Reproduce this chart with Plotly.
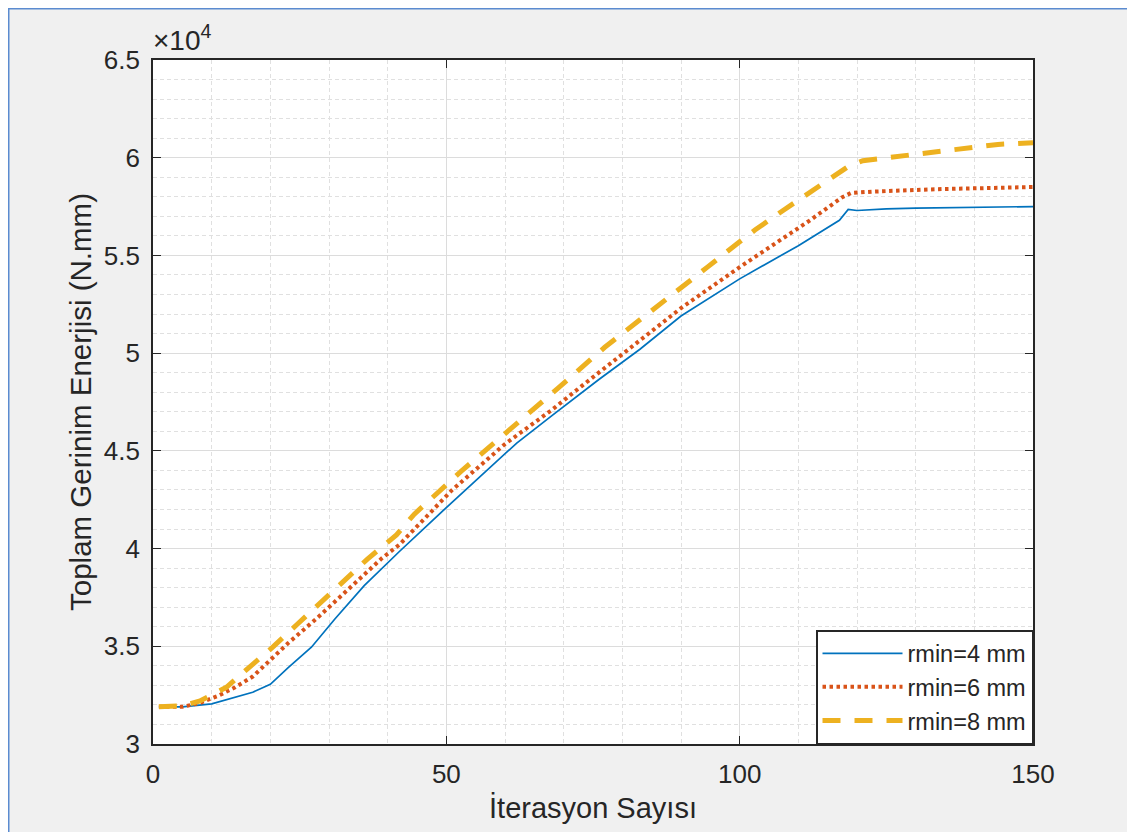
import plotly.graph_objects as go

# ---- data ----
x_r4 = [1, 5, 10, 15, 17, 20, 23, 27, 31, 36, 42, 50, 56, 62, 68, 76, 83, 90, 100, 110, 117, 118.5, 120, 125, 130, 140, 150]
y_r4 = [31900, 31900, 32050, 32500, 32650, 33050, 33900, 34950, 36400, 38100, 39850, 42100, 43750, 45400, 46800, 48650, 50200, 51900, 53800, 55500, 56800, 57350, 57300, 57380, 57420, 57460, 57500]

x_r6 = [1, 5, 8, 11, 14, 17, 20, 23, 28, 34, 39, 42, 51, 60, 68, 73, 79, 85, 90, 100, 107, 112, 117.5, 119, 123, 127, 135, 150]
y_r6 = [31900, 31900, 32100, 32450, 32900, 33450, 34300, 35150, 36450, 38150, 39500, 40200, 43000, 45350, 47100, 48300, 49730, 51100, 52300, 54400, 55800, 56800, 57980, 58200, 58270, 58320, 58400, 58500]

x_r8 = [1, 5, 8, 12.5, 16.5, 20.5, 24.5, 28.5, 32.5, 36.5, 41.5, 44.5, 52.5, 61, 69, 77, 86, 94.5, 100, 102.6, 107.4, 112, 116.6, 118.5, 121, 127, 135, 144, 150]
y_r8 = [31900, 31950, 32200, 32900, 33950, 34980, 36100, 37200, 38350, 39450, 40700, 41750, 43950, 46100, 48200, 50300, 52450, 54400, 55700, 56300, 57300, 58250, 59150, 59550, 59850, 60080, 60350, 60680, 60770]

series_names = ["rmin=4 mm", "rmin=6 mm", "rmin=8 mm"]
x_ticks = [0, 50, 100, 150]
y_ticks = [30000, 35000, 40000, 45000, 50000, 55000, 60000, 65000]
y_tick_text = ["3", "3.5", "4", "4.5", "5", "5.5", "6", "6.5"]

FONT = "Liberation Sans, Arial, sans-serif"
AX = "#262626"

fig = go.Figure()
fig.add_trace(go.Scatter(x=x_r4, y=y_r4, mode="lines", name=series_names[0],
                         line=dict(color="#0072BD", width=1.7)))
fig.add_trace(go.Scatter(x=x_r6, y=y_r6, mode="lines", name=series_names[1],
                         line=dict(color="#D95319", width=4, dash="3.5px,3.5px")))
fig.add_trace(go.Scatter(x=x_r8, y=y_r8, mode="lines", name=series_names[2],
                         line=dict(color="#EDB120", width=5, dash="18px,14px")))

common = dict(
    showline=True, linecolor=AX, linewidth=1.6, mirror="ticks",
    ticks="inside", ticklen=8, tickcolor=AX, tickwidth=1.2,
    showgrid=True, gridcolor="#dcdcdc", gridwidth=1,
    zeroline=False,
    tickfont=dict(family=FONT, size=26, color=AX),
)

fig.update_xaxes(
    range=[0, 150], tickvals=x_ticks, ticktext=[str(v) for v in x_ticks],
    minor=dict(dtick=10, tick0=0, showgrid=True, gridcolor="#e0e0e0", griddash="4px,3px", ticks=""),
    title=dict(text="İterasyon Sayısı", font=dict(family=FONT, size=29, color=AX), standoff=10),
    ticklabelstandoff=6,
    **common,
)
fig.update_yaxes(
    range=[30000, 65000], tickvals=y_ticks, ticktext=y_tick_text,
    minor=dict(dtick=1000, tick0=30000, showgrid=True, gridcolor="#e0e0e0", griddash="4px,3px", ticks=""),
    title=dict(text="Toplam Gerinim Enerjisi (N.mm)", font=dict(family=FONT, size=29.5, color=AX), standoff=4),
    ticklabelstandoff=6,
    **common,
)

fig.add_annotation(xref="paper", yref="paper", x=0.0, y=1.0, yshift=2, xshift=-2,
                   xanchor="left", yanchor="bottom",
                   text="×10<sup>4</sup>", showarrow=False,
                   font=dict(family=FONT, size=28, color=AX))

# page is offset by the 8px body margin, so size/margins compensate
W, H = 1127, 824
L, R, T, B = 145, 102, 52, 88
pw, ph = W - L - R, H - T - B
def px_to_paper_x(px):
    return (px - L) / pw
def px_to_paper_y(py):
    return (H - B - py) / ph
# window frame lines (blue, top & left)
fig.add_shape(type="line", xref="paper", yref="paper",
              x0=px_to_paper_x(0), x1=px_to_paper_x(W + 5), y0=px_to_paper_y(0.5), y1=px_to_paper_y(0.5),
              line=dict(color="#5b8bd0", width=2))
fig.add_shape(type="line", xref="paper", yref="paper",
              x0=px_to_paper_x(0.5), x1=px_to_paper_x(0.5), y0=px_to_paper_y(0), y1=px_to_paper_y(H + 5),
              line=dict(color="#5b8bd0", width=2))

fig.update_layout(
    width=W, height=H,
    margin=dict(l=L, r=R, t=T, b=B, autoexpand=False),
    paper_bgcolor="#f0f0f0", plot_bgcolor="white",
    font=dict(family=FONT, color=AX),
    showlegend=True,
    legend=dict(x=1, xanchor="right", y=0, yanchor="bottom",
                bgcolor="white", bordercolor=AX, borderwidth=1.5,
                font=dict(family=FONT, size=23.5, color=AX),
                itemwidth=80, tracegroupgap=0),
)

fig.write_html("out.html")
